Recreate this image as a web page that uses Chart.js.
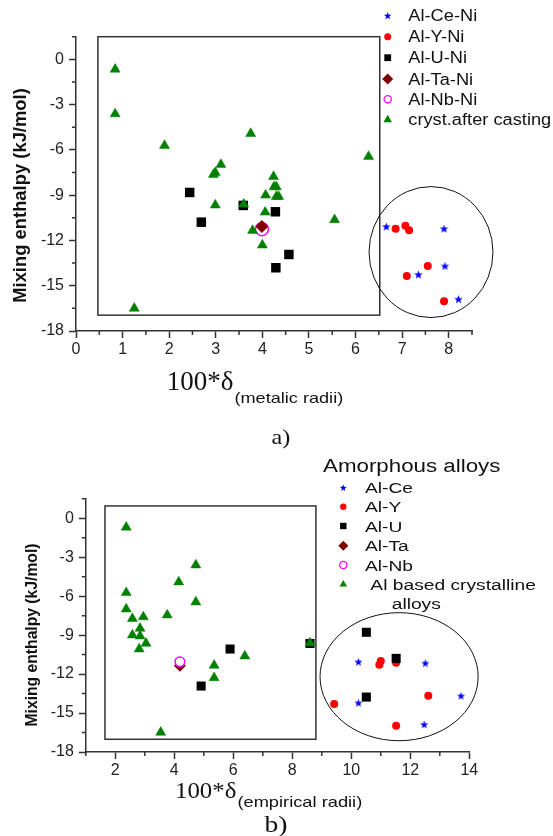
<!DOCTYPE html>
<html>
<head>
<meta charset="utf-8">
<script src="https://cdn.jsdelivr.net/npm/chart.js@4.4.1/dist/chart.umd.min.js"></script>
<style>
  body { margin: 0; background: #fff; }
  #wrap { position: relative; width: 553px; height: 836px; overflow: hidden; }
  canvas { position: absolute; left: 0; }
  #chartA { top: 0; }
  #chartB { top: 450px; }
</style>
</head>
<body>
<div id="wrap">
  <canvas id="chartA" width="553" height="450"></canvas>
  <canvas id="chartB" width="553" height="386"></canvas>
</div>
<script>
// ---- (a) 100*delta from metallic radii ----
const ceNiX = [6.66, 7.90, 7.92, 7.35, 8.21];
const ceNiY = [-11.08, -11.22, -13.69, -14.26, -15.89];
const yNiX = [6.86, 7.07, 7.15, 7.55, 7.10, 7.90];
const yNiY = [-11.22, -11.02, -11.32, -13.69, -14.35, -16.03];
const uNiX = [2.44, 2.69, 3.59, 4.28, 4.57, 4.29];
const uNiY = [-8.82, -10.79, -9.68, -10.10, -12.93, -13.81];
const taNiX = [3.99];
const taNiY = [-11.07];
const nbNiX = [3.99];
const nbNiY = [-11.25];
const castX = [0.84, 0.84, 1.90, 3.75, 3.11, 2.99, 2.95, 2.99, 3.60, 4.24, 4.25, 4.30, 4.07, 4.30, 4.35, 4.06, 3.79, 4.00, 5.55, 6.28, 1.25];
const castY = [-0.66, -3.62, -5.71, -4.92, -6.97, -7.50, -7.63, -9.66, -9.60, -7.77, -8.45, -8.45, -9.00, -9.09, -9.09, -10.13, -11.34, -12.31, -10.63, -6.44, -16.50];

// ---- (b) 100*delta from empirical radii ----
const ceX = [10.24, 12.51, 13.72, 10.24, 12.47];
const ceY = [-11.05, -11.15, -13.67, -14.21, -15.87];
const yX = [11.00, 10.95, 11.52, 12.61, 9.42, 11.52];
const yY = [-10.99, -11.28, -11.12, -13.67, -14.31, -15.98];
const uX = [5.89, 4.91, 8.60, 10.51, 11.52, 10.51];
const uY = [-10.07, -12.92, -9.64, -8.78, -10.79, -13.77];
const taX = [4.19];
const taY = [-11.36];
const nbX = [4.19];
const nbY = [-11.05];
const crystX = [2.37, 2.37, 2.37, 2.58, 2.95, 2.58, 2.84, 2.84, 2.81, 3.04, 3.76, 4.15, 4.73, 4.73, 5.35, 5.35, 6.39, 8.60, 3.54];
const crystY = [-0.69, -5.73, -6.99, -7.73, -7.60, -8.99, -8.48, -9.07, -10.07, -9.63, -7.45, -4.91, -3.60, -6.45, -11.33, -12.28, -10.61, -9.61, -16.49];

const labelsA = ['Al-Ce-Ni', 'Al-Y-Ni', 'Al-U-Ni', 'Al-Ta-Ni', 'Al-Nb-Ni', 'cryst.after casting'];
const labelsB = ['Al-Ce', 'Al-Y', 'Al-U', 'Al-Ta', 'Al-Nb', ' Al based crystalline', 'alloys'];

const GREEN = '#008000', RED = '#ff0000', BLUE = '#0000ff', MAROON = '#800000', MAGENTA = '#ff00ff';
const SANS = '"Liberation Sans", Arial, sans-serif';
const SERIF = '"Liberation Serif", "Times New Roman", serif';

Chart.defaults.font.family = SANS;
Chart.defaults.color = '#222';

function pts(xs, ys) {
  return xs.map((x, i) => ({ x: x, y: ys[i] }));
}

// filled five point star used as a point image
function starImage(r, color) {
  const c = document.createElement('canvas');
  const s = Math.ceil(r * 2 + 2);
  c.width = c.height = s;
  const g = c.getContext('2d');
  starPath(g, s / 2, s / 2 + r * 0.1, r);
  g.fillStyle = color;
  g.fill();
  return c;
}

function starPath(g, x, y, r) {
  g.beginPath();
  for (let i = 0; i < 10; i++) {
    const rr = i % 2 ? r * 0.42 : r;
    const a = -Math.PI / 2 + i * Math.PI / 5;
    g.lineTo(x + rr * Math.cos(a), y + rr * Math.sin(a));
  }
  g.closePath();
}

// legend markers
function drawMark(ctx, m, x, y) {
  const r = m.size;
  ctx.save();
  ctx.fillStyle = m.color;
  ctx.strokeStyle = m.color;
  ctx.beginPath();
  if (m.type === 'star') {
    starPath(ctx, x, y + r * 0.1, r);
    ctx.fill();
  } else if (m.type === 'circle') {
    ctx.arc(x, y, r, 0, Math.PI * 2);
    ctx.fill();
  } else if (m.type === 'ring') {
    ctx.lineWidth = 1.3;
    ctx.arc(x, y, r, 0, Math.PI * 2);
    ctx.stroke();
  } else if (m.type === 'rect') {
    ctx.fillRect(x - r, y - r, 2 * r, 2 * r);
  } else if (m.type === 'diamond') {
    ctx.moveTo(x, y - r); ctx.lineTo(x + r, y); ctx.lineTo(x, y + r); ctx.lineTo(x - r, y);
    ctx.closePath();
    ctx.fill();
  } else if (m.type === 'triangle') {
    ctx.moveTo(x, y - r); ctx.lineTo(x + r * 0.95, y + r * 0.65); ctx.lineTo(x - r * 0.95, y + r * 0.65);
    ctx.closePath();
    ctx.fill();
  }
  ctx.restore();
}

function wideText(ctx, text, x, y, font, sx, align) {
  ctx.save();
  ctx.font = font;
  ctx.textAlign = align || 'left';
  ctx.textBaseline = 'alphabetic';
  ctx.translate(x, y);
  ctx.scale(sx, 1);
  ctx.fillText(text, 0, 0);
  ctx.restore();
  ctx.save();
  ctx.font = font;
  const w = ctx.measureText(text).width * sx;
  ctx.restore();
  return w;
}

// frames, minor ticks, titles and legend for one panel
function decor(cfg) {
  return {
    id: 'decor',
    beforeDatasetsDraw(chart) {
      const ctx = chart.ctx, xs = chart.scales.x, ys = chart.scales.y;
      ctx.save();
      const b = cfg.box;
      const left = xs.getPixelForValue(b[0]), right = xs.getPixelForValue(b[1]);
      const bottom = ys.getPixelForValue(b[2]), top = ys.getPixelForValue(b[3]);
      ctx.strokeStyle = '#333';
      ctx.lineWidth = 1.5;
      ctx.strokeRect(left, top, right - left, bottom - top);
      const e = cfg.ring;
      const cx = xs.getPixelForValue(e[0]), cy = ys.getPixelForValue(e[1]);
      ctx.beginPath();
      ctx.ellipse(cx, cy, Math.abs(xs.getPixelForValue(e[0] + e[2]) - cx), Math.abs(ys.getPixelForValue(e[1] + e[3]) - cy), 0, 0, Math.PI * 2);
      ctx.strokeStyle = '#111';
      ctx.lineWidth = 1;
      ctx.stroke();
      ctx.restore();
    },
    afterDraw(chart) {
      const ctx = chart.ctx, area = chart.chartArea;
      const xs = chart.scales.x, ys = chart.scales.y;
      ctx.save();
      ctx.strokeStyle = '#333';
      ctx.lineWidth = 1.5;
      ctx.beginPath();
      xs.ticks.forEach(t => {
        if (cfg.xMajor(t.value)) return;
        const p = xs.getPixelForValue(t.value);
        ctx.moveTo(p, area.bottom); ctx.lineTo(p, area.bottom + 4);
      });
      ys.ticks.forEach(t => {
        if (t.value % 3 === 0) return;
        const p = ys.getPixelForValue(t.value);
        ctx.moveTo(area.left, p); ctx.lineTo(area.left - 4, p);
      });
      ctx.stroke();
      ctx.restore();

      // y title
      ctx.save();
      ctx.translate(cfg.yTitle.x, cfg.yTitle.y);
      ctx.rotate(-Math.PI / 2);
      ctx.font = 'bold ' + cfg.yTitle.size + 'px ' + SANS;
      ctx.textAlign = 'center';
      ctx.textBaseline = 'middle';
      ctx.fillStyle = '#111';
      ctx.fillText('Mixing enthalpy (kJ/mol)', 0, 0);
      ctx.restore();

      // x title: 100*δ with a subscript
      ctx.fillStyle = '#111';
      const t = cfg.xTitle;
      const w = wideText(ctx, '100*δ', t.x, t.y, t.size + 'px ' + SERIF, t.sx);
      wideText(ctx, t.sub, t.x + w + 1, t.y + t.drop, t.subSize + 'px ' + SANS, t.subSx);

      // panel letter
      wideText(ctx, cfg.letter.text, cfg.letter.x, cfg.letter.y, cfg.letter.size + 'px ' + SERIF, cfg.letter.sx, 'center');

      // legend
      const L = cfg.legend;
      ctx.fillStyle = '#111';
      if (L.title) wideText(ctx, L.title, L.titleX, L.titleY, L.titleSize + 'px ' + SANS, L.sx);
      L.labels.forEach((lab, i) => {
        const yy = L.rows[i];
        if (L.marks[i]) drawMark(ctx, L.marks[i], L.markX, yy);
        const tx = L.textX[i] !== undefined ? L.textX[i] : L.textX[0];
        ctx.fillStyle = '#111';
        wideText(ctx, lab, tx, yy + L.size * 0.36, L.size + 'px ' + SANS, L.sx);
      });
    }
  };
}

function axes(xmin, xmax, xstep, xMajor, yWidth, xHeight) {
  const border = { color: '#333', width: 1.5 };
  return {
    x: {
      type: 'linear', min: xmin, max: xmax,
      afterFit: s => { s.height = xHeight; },
      border: border,
      grid: {
        drawOnChartArea: false, tickLength: 7, tickWidth: 1.5,
        tickColor: c => (c.tick && xMajor(c.tick.value)) ? '#333' : 'rgba(0,0,0,0)'
      },
      ticks: {
        stepSize: xstep, autoSkip: false, maxRotation: 0, padding: 2,
        font: { size: 16 }, color: '#222',
        callback: v => xMajor(v) ? v : ''
      }
    },
    y: {
      type: 'linear', min: -18, max: 1.5,
      afterFit: s => { s.width = yWidth; },
      border: border,
      grid: {
        drawOnChartArea: false, tickLength: 7, tickWidth: 1.5,
        tickColor: c => (c.tick && c.tick.value % 3 === 0) ? '#333' : 'rgba(0,0,0,0)'
      },
      ticks: {
        stepSize: 1.5, autoSkip: false, padding: 5,
        font: { size: 16 }, color: '#222',
        callback: v => v % 3 === 0 ? v : ''
      }
    }
  };
}

const starA = starImage(4.5, BLUE);

new Chart(document.getElementById('chartA'), {
  type: 'scatter',
  data: {
    datasets: [
      { label: labelsA[0], data: pts(ceNiX, ceNiY), pointStyle: starA, order: 5 },
      { label: labelsA[1], data: pts(yNiX, yNiY), pointStyle: 'circle', pointRadius: 4, backgroundColor: RED, borderWidth: 0, order: 4 },
      { label: labelsA[2], data: pts(uNiX, uNiY), pointStyle: 'rect', pointRadius: 6.7, backgroundColor: '#000', borderWidth: 0, order: 3 },
      { label: labelsA[3], data: pts(taNiX, taNiY), pointStyle: 'rectRot', pointRadius: 6.5, backgroundColor: MAROON, borderWidth: 0, order: 1 },
      { label: labelsA[4], data: pts(nbNiX, nbNiY), pointStyle: 'circle', pointRadius: 6.5, backgroundColor: 'rgba(0,0,0,0)', borderColor: MAGENTA, borderWidth: 1.5, order: 2 },
      { label: labelsA[5], data: pts(castX, castY), pointStyle: 'triangle', pointRadius: 5.8, backgroundColor: GREEN, borderColor: GREEN, borderWidth: 0.5, order: 0 }
    ]
  },
  options: {
    responsive: false, animation: false, events: [],
    clip: false,
    layout: { autoPadding: false, padding: { left: 0, top: 36.7, right: 81, bottom: 79 } },
    plugins: { legend: { display: false }, tooltip: { enabled: false } },
    scales: axes(0, 8.5, 0.5, v => Number.isInteger(v), 76, 40)
  },
  plugins: [decor({
    box: [0.47, 6.52, -16.95, 1.5],
    ring: [7.62, -12.77, 1.33, 4.34],
    xMajor: v => Number.isInteger(v),
    yTitle: { x: 21.3, y: 195.5, size: 18.4 },
    xTitle: { x: 166.7, y: 390, size: 27, sx: 1, sub: '(metalic radii)', subSize: 14.5, subSx: 1.25, drop: 12.7 },
    letter: { text: 'a)', x: 281, y: 444, size: 22, sx: 1.1 },
    legend: {
      labels: labelsA,
      marks: [
        { type: 'star', color: BLUE, size: 4 },
        { type: 'circle', color: RED, size: 3.5 },
        { type: 'rect', color: '#000', size: 3.4 },
        { type: 'diamond', color: MAROON, size: 5.5 },
        { type: 'ring', color: MAGENTA, size: 3.6 },
        { type: 'triangle', color: GREEN, size: 4.5 }
      ],
      markX: 387.7, textX: [408.3],
      rows: [15.7, 36.7, 57.7, 79, 99.3, 119.3],
      size: 16, sx: 1.14
    }
  })]
});

const starB = starImage(4.3, BLUE);

new Chart(document.getElementById('chartB'), {
  type: 'scatter',
  data: {
    datasets: [
      { label: labelsB[0], data: pts(ceX, ceY), pointStyle: starB, order: 5 },
      { label: labelsB[1], data: pts(yX, yY), pointStyle: 'circle', pointRadius: 4, backgroundColor: RED, borderWidth: 0, order: 4 },
      { label: labelsB[2], data: pts(uX, uY), pointStyle: 'rect', pointRadius: 6.4, backgroundColor: '#000', borderWidth: 0, order: 3 },
      { label: labelsB[3], data: pts(taX, taY), pointStyle: 'rectRot', pointRadius: 6, backgroundColor: MAROON, borderWidth: 0, order: 2 },
      { label: labelsB[4], data: pts(nbX, nbY), pointStyle: 'circle', pointRadius: 4.8, backgroundColor: '#fff', borderColor: MAGENTA, borderWidth: 1.5, order: 1 },
      { label: labelsB[5], data: pts(crystX, crystY), pointStyle: 'triangle', pointRadius: 5.8, backgroundColor: GREEN, borderColor: GREEN, borderWidth: 0.5, order: 0 }
    ]
  },
  options: {
    responsive: false, animation: false, events: [],
    clip: false,
    layout: { autoPadding: false, padding: { left: 0, top: 48.8, right: 83.7, bottom: 44 } },
    plugins: { legend: { display: false }, tooltip: { enabled: false } },
    scales: axes(1, 14, 1, v => v % 2 === 0, 85.8, 40)
  },
  plugins: [decor({
    box: [1.65, 8.80, -17.02, 0.95],
    ring: [11.62, -12.20, 2.68, 4.93],
    xMajor: v => v % 2 === 0,
    yTitle: { x: 33, y: 185, size: 15.7 },
    xTitle: { x: 175, y: 348, size: 23, sx: 1.08, sub: '(empirical radii)', subSize: 14.5, subSx: 1.26, drop: 8.7 },
    letter: { text: 'b)', x: 276, y: 381.7, size: 23, sx: 1.2 },
    legend: {
      title: 'Amorphous alloys', titleX: 323, titleY: 21.7, titleSize: 18,
      labels: labelsB,
      marks: [
        { type: 'star', color: BLUE, size: 3.6 },
        { type: 'circle', color: RED, size: 3.2 },
        { type: 'rect', color: '#000', size: 3.2 },
        { type: 'diamond', color: MAROON, size: 5 },
        { type: 'ring', color: MAGENTA, size: 3.6 },
        { type: 'triangle', color: GREEN, size: 4 },
        null
      ],
      markX: 343.3, textX: [365, 365, 365, 365, 365, 365, 391.7],
      rows: [37.7, 56.7, 76, 95.7, 115, 134, 153.3],
      size: 15.5, sx: 1.24
    }
  })]
});
</script>
</body>
</html>
